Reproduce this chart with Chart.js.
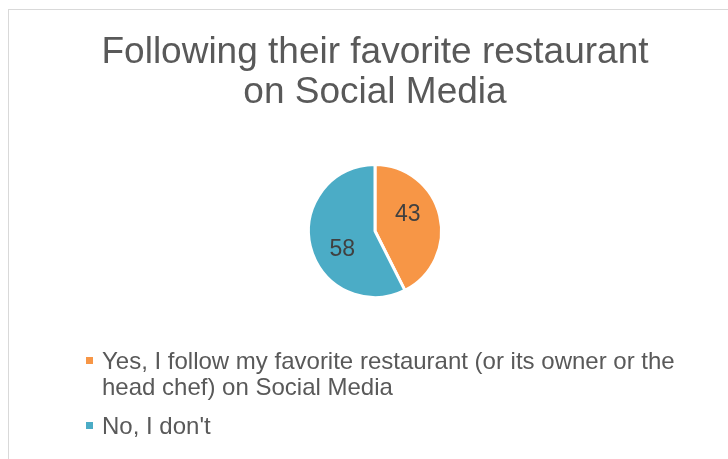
<!DOCTYPE html>
<html>
<head>
<meta charset="utf-8">
<title>Following their favorite restaurant on Social Media</title>
<script src="https://cdn.jsdelivr.net/npm/chart.js@4/dist/chart.umd.min.js"></script>
<style>
  html, body { margin: 0; padding: 0; background: #fff; }
  #wrap { position: relative; width: 728px; height: 459px; overflow: hidden; }
  #frame { position: absolute; left: 8px; top: 9px; width: 760px; height: 480px; border: 1px solid #d9d9d9; }
  #chart-box { position: absolute; left: 0; top: 0; width: 728px; height: 459px; }
  #legend { position: absolute; left: 86px; top: 348px; width: 610px; font-family: "Liberation Sans", Arial, sans-serif; font-size: 24px; line-height: 26px; color: #595959; }
  .legend-item { display: flex; align-items: flex-start; margin-bottom: 13px; }
  .legend-swatch { flex: none; width: 7px; height: 7px; margin-top: 9px; margin-right: 9px; }
</style>
</head>
<body>
<div id="wrap">
  <div id="frame"></div>
  <div id="chart-box"><canvas id="chart-pie"></canvas></div>
  <div id="legend"></div>
</div>
<script>
(function() {

const titleLines = ['Following their favorite restaurant', 'on Social Media'];
const categories = [
  'Yes, I follow my favorite restaurant (or its owner or the head chef) on Social Media',
  'No, I don\'t'
];
const counts = [43, 58];
const sliceColors = ['#f79646', '#4bacc6'];

// value labels sit inside each slice, a little ahead of the slice's middle angle
const sliceLabels = {
  id: 'sliceLabels',
  afterDatasetsDraw(chart) {
    const { ctx } = chart;
    const meta = chart.getDatasetMeta(0);
    ctx.save();
    ctx.font = '23px "Liberation Sans", Arial, sans-serif';
    ctx.fillStyle = '#404040';
    ctx.textAlign = 'center';
    ctx.textBaseline = 'middle';
    meta.data.forEach((arc, i) => {
      const p = arc.getProps(['x', 'y', 'startAngle', 'endAngle', 'outerRadius'], true);
      const mid = (p.startAngle + p.endAngle) / 2 - Math.PI / 12;
      const r = p.outerRadius * 0.56;
      ctx.fillText(String(chart.data.datasets[0].data[i]), p.x + Math.cos(mid) * r, p.y + Math.sin(mid) * r + 1);
    });
    ctx.restore();
  }
};

const chart = new Chart(document.getElementById('chart-pie'), {
  type: 'pie',
  data: {
    labels: categories,
    datasets: [{
      data: counts,
      backgroundColor: sliceColors,
      borderColor: '#ffffff',
      borderWidth: 3,
      hoverOffset: 0
    }]
  },
  options: {
    responsive: true,
    maintainAspectRatio: false,
    animation: false,
    layout: { padding: { left: 22, right: 0, top: 0, bottom: 160 } },
    plugins: {
      legend: { display: false },
      tooltip: { enabled: false },
      title: {
        display: true,
        text: titleLines,
        color: '#595959',
        font: { family: '"Liberation Sans", Arial, sans-serif', size: 37, weight: 'normal', lineHeight: 40 / 37 },
        padding: { top: 33, bottom: 50 }
      }
    }
  },
  plugins: [sliceLabels]
});

// legend below the pie, text wraps like a word-processor legend
const legend = document.getElementById('legend');
chart.data.labels.forEach((label, i) => {
  const item = document.createElement('div');
  item.className = 'legend-item';
  const swatch = document.createElement('span');
  swatch.className = 'legend-swatch';
  swatch.style.background = sliceColors[i];
  const text = document.createElement('span');
  text.textContent = label;
  item.appendChild(swatch);
  item.appendChild(text);
  legend.appendChild(item);
});

})();
</script>
</body>
</html>
